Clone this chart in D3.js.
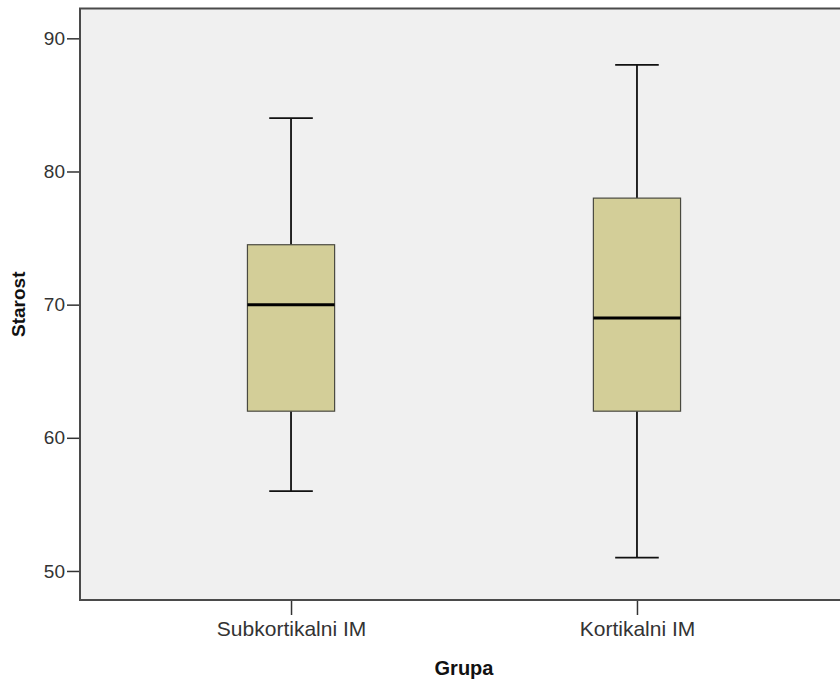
<!DOCTYPE html>
<html>
<head>
<meta charset="utf-8">
<script src="https://cdn.jsdelivr.net/npm/d3@7"></script>
<style>
  html, body { margin: 0; padding: 0; background: #fff; }
  svg { display: block; }
  text { font-family: "Liberation Sans", Arial, sans-serif; }
</style>
</head>
<body>
<svg id="chart" width="840" height="683"></svg>
<script>
// Age distribution by infarct group (five-number summaries)
const groups   = ["Subkortikalni IM", "Kortikalni IM"];
const whiskLo  = [56, 51];
const q1       = [62, 62];
const medians  = [70, 69];
const q3       = [74.5, 78];
const whiskHi  = [84, 88];
const yTicks   = [50, 60, 70, 80, 90];

const svg = d3.select("#chart");
const plot = { left: 80, top: 8.5, right: 848, bottom: 600 };

const x = d3.scalePoint()
  .domain(groups)
  .range([plot.left, plot.right])
  .padding(0.61);

const y = d3.scaleLinear()
  .domain([47.82, 92.24])
  .range([plot.bottom, plot.top]);

const step = x.step();
const boxW = step * 0.252;
const capW = step * 0.126;

// plot background
svg.append("rect")
  .attr("x", plot.left).attr("y", plot.top)
  .attr("width", plot.right - plot.left)
  .attr("height", plot.bottom - plot.top)
  .attr("fill", "#f0f0f0");

// boxes and whiskers
const g = svg.append("g");
groups.forEach((name, i) => {
  const cx = x(name);
  // vertical whisker lines
  g.append("line")
    .attr("x1", cx).attr("x2", cx)
    .attr("y1", y(whiskHi[i])).attr("y2", y(q3[i]))
    .attr("stroke", "#111").attr("stroke-width", 1.8);
  g.append("line")
    .attr("x1", cx).attr("x2", cx)
    .attr("y1", y(q1[i])).attr("y2", y(whiskLo[i]))
    .attr("stroke", "#111").attr("stroke-width", 1.8);
  // caps
  [whiskHi[i], whiskLo[i]].forEach(v => {
    g.append("line")
      .attr("x1", cx - capW / 2).attr("x2", cx + capW / 2)
      .attr("y1", y(v)).attr("y2", y(v))
      .attr("stroke", "#111").attr("stroke-width", 1.8);
  });
  // interquartile box
  g.append("rect")
    .attr("x", cx - boxW / 2).attr("y", y(q3[i]))
    .attr("width", boxW).attr("height", y(q1[i]) - y(q3[i]))
    .attr("fill", "#d3ce98")
    .attr("stroke", "#4a4a40").attr("stroke-width", 1.2);
  // median
  g.append("line")
    .attr("x1", cx - boxW / 2).attr("x2", cx + boxW / 2)
    .attr("y1", y(medians[i])).attr("y2", y(medians[i]))
    .attr("stroke", "#000").attr("stroke-width", 3);
});

// y axis
const yAxis = svg.append("g")
  .attr("transform", `translate(${plot.left},0)`)
  .call(d3.axisLeft(y).tickValues(yTicks).tickSize(13).tickPadding(2).tickFormat(d3.format("d")));
yAxis.select(".domain").remove();
yAxis.selectAll(".tick line").attr("stroke", "#333").attr("stroke-width", 1.5);
yAxis.selectAll(".tick text")
  .attr("font-size", 19).attr("fill", "#333")
  .style("font-family", "'Liberation Sans', Arial, sans-serif");

// x axis
const xAxis = svg.append("g")
  .attr("transform", `translate(0,${plot.bottom})`)
  .call(d3.axisBottom(x).tickSize(15).tickPadding(6));
xAxis.select(".domain").remove();
xAxis.selectAll(".tick line").attr("stroke", "#333").attr("stroke-width", 1.5);
xAxis.selectAll(".tick text")
  .attr("font-size", 21).attr("fill", "#333")
  .style("font-family", "'Liberation Sans', Arial, sans-serif");

// plot frame
svg.append("rect")
  .attr("x", plot.left).attr("y", plot.top)
  .attr("width", plot.right - plot.left)
  .attr("height", plot.bottom - plot.top)
  .attr("fill", "none")
  .attr("stroke", "#4a4a4a").attr("stroke-width", 2);

// axis titles
svg.append("text")
  .attr("x", (plot.left + plot.right) / 2).attr("y", 675)
  .attr("text-anchor", "middle")
  .attr("font-size", 20).attr("font-weight", "bold").attr("fill", "#111")
  .text("Grupa");

svg.append("text")
  .attr("transform", `translate(25,${(plot.top + plot.bottom) / 2}) rotate(-90)`)
  .attr("text-anchor", "middle")
  .attr("font-size", 19).attr("font-weight", "bold").attr("fill", "#111")
  .text("Starost");
</script>
</body>
</html>
